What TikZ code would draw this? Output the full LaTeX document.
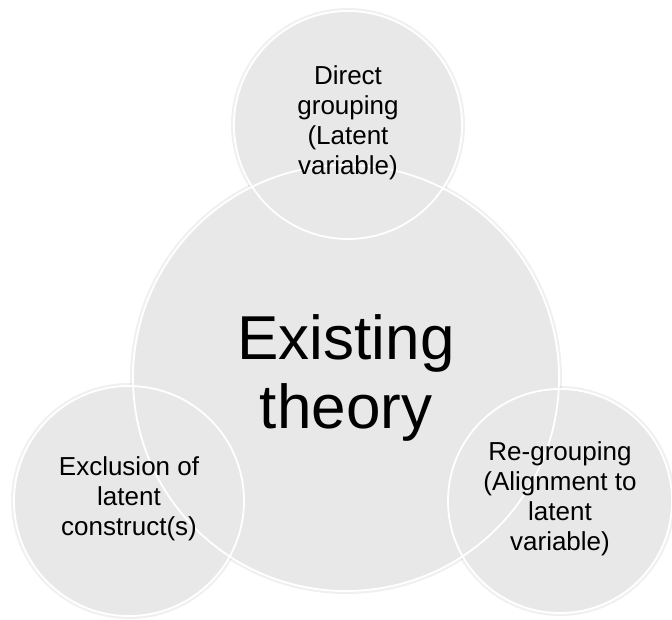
\documentclass[tikz,border=0pt]{standalone}
\usepackage{fontspec}
\setmainfont{Liberation Sans}
\definecolor{discfill}{HTML}{E8E8E8}
\tikzset{
  x=1pt, y=1pt,
  disc/.style={circle, fill=discfill, inner sep=0pt, minimum size=#1},
  halo/.style={draw=black, draw opacity=0.06, line width=3pt},
  rim/.style={draw=white, line width=1.8pt},
  smalltext/.style={align=center, font=\fontsize{26}{30}\selectfont, text=black},
  bigtext/.style={align=center, font=\fontsize{62}{69}\selectfont, text=black}
}
\begin{document}
\begin{tikzpicture}
\useasboundingbox (0,0) rectangle (672,619);
% centres
\coordinate (cb) at (346,241);
\coordinate (ct) at (348,494);
\coordinate (cl) at (129,118);
\coordinate (cr) at (560,118);
% soft shadows
\draw[halo] (cb) circle[radius=214.5];
\draw[halo] (ct) circle[radius=115.5];
\draw[halo] (cl) circle[radius=116.5];
\draw[halo] (cr) circle[radius=113.5];
% fills
\node[disc=426pt] (big) at (cb) {};
\node[disc=228pt] (top) at (ct) {};
\node[disc=230pt] (left) at (cl) {};
\node[disc=224pt] (right) at (cr) {};
% white rims on top of all fills
\draw[rim] (big.center) circle[radius=213];
\draw[rim] (top.center) circle[radius=114];
\draw[rim] (left.center) circle[radius=115];
\draw[rim] (right.center) circle[radius=112];
% texts
\node[bigtext] (bigtxt) at ([yshift=0]big.center) {Existing\\theory};
\node[smalltext] (toptxt) at ([yshift=2]top.center) {Direct\\grouping\\(Latent\\variable)};
\node[smalltext] (lefttxt) at ([yshift=2]left.center) {Exclusion of\\latent\\construct(s)};
\node[smalltext] (righttxt) at ([yshift=2]right.center) {Re-grouping\\(Alignment to\\latent\\variable)};
\end{tikzpicture}
\end{document}
